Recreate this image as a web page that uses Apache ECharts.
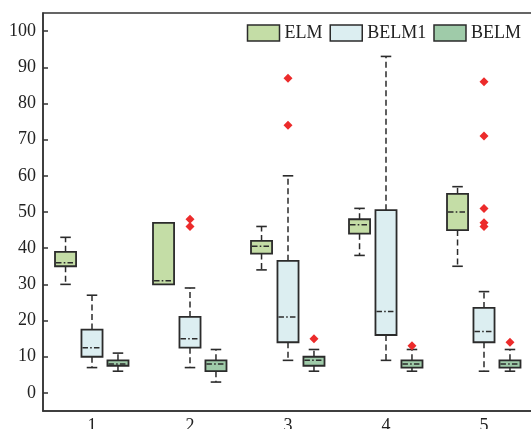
<!DOCTYPE html>
<html>
<head>
<meta charset="utf-8">
<script src="https://cdn.jsdelivr.net/npm/echarts@6/dist/echarts.min.js"></script>
<style>
  html, body { margin: 0; padding: 0; background: #fff; }
  #chart { width: 531px; height: 429px; }
</style>
</head>
<body>
<div id="chart"></div>
<script>
// Test cases on the x axis
const categories = ['1', '2', '3', '4', '5'];
const yTicks = [0, 10, 20, 30, 40, 50, 60, 70, 80, 90, 100];
const seriesNames = ['ELM', 'BELM1', 'BELM'];

// Box statistics per case: [lower whisker, Q1, median, Q3, upper whisker]
const elmStats = [
  [30, 35, 36, 39, 43],
  [30, 30, 31, 47, 47],
  [34, 38.5, 40.5, 42, 46],
  [38, 44, 46.5, 48, 51],
  [35, 45, 50, 55, 57]
];
const belm1Stats = [
  [7, 10, 12.5, 17.5, 27],
  [7, 12.5, 15, 21, 29],
  [9, 14, 21, 36.5, 60],
  [9, 16, 22.5, 50.5, 93],
  [6, 14, 17, 23.5, 28]
];
const belmStats = [
  [6, 7.5, 8, 9, 11],
  [3, 6, 8, 9, 12],
  [6, 7.5, 9, 10, 12],
  [6, 7, 8, 9, 12],
  [6, 7, 8, 9, 12]
];

// Outliers: [case index, value]
const elmOutliers = [];
const belm1Outliers = [
  [1, 48], [1, 46],
  [2, 87], [2, 74],
  [4, 86], [4, 71], [4, 51], [4, 47], [4, 46]
];
const belmOutliers = [
  [2, 15], [3, 13], [4, 14]
];

const fills = ['#c4dda6', '#dceef1', '#9fcba9'];
const edge = '#2b2b2b';
const offsets = [-0.27, 0, 0.265];   // fraction of band width
const boxRatio = 0.215;              // box width as fraction of band width
const font = "'Liberation Serif', 'Times New Roman', serif";

function boxRenderer(offset, fill) {
  return function (params, api) {
    const i = api.value(0);
    const band = api.size([1, 0])[0];
    const cx = api.coord([i, 0])[0] + band * offset;
    const w = band * boxRatio;
    const y = k => api.coord([i, api.value(k)])[1];
    const yLo = y(1), yQ1 = y(2), yMed = y(3), yQ3 = y(4), yHi = y(5);
    const dashed = { stroke: edge, lineWidth: 1.5, lineDash: [6, 3.5] };
    const solid = { stroke: edge, lineWidth: 1.6 };
    const children = [];
    if (yHi < yQ3 - 0.5) {
      children.push({ type: 'line', shape: { x1: cx, y1: yQ3, x2: cx, y2: yHi }, style: dashed });
      children.push({ type: 'line', shape: { x1: cx - w / 4, y1: yHi, x2: cx + w / 4, y2: yHi }, style: solid });
    }
    if (yLo > yQ1 + 0.5) {
      children.push({ type: 'line', shape: { x1: cx, y1: yQ1, x2: cx, y2: yLo }, style: dashed });
      children.push({ type: 'line', shape: { x1: cx - w / 4, y1: yLo, x2: cx + w / 4, y2: yLo }, style: solid });
    }
    children.push({
      type: 'rect',
      shape: { x: cx - w / 2, y: yQ3, width: w, height: yQ1 - yQ3 },
      style: { fill: fill, stroke: edge, lineWidth: 1.8 }
    });
    children.push({
      type: 'line',
      shape: { x1: cx - w / 2 + 1, y1: yMed, x2: cx + w / 2 - 1, y2: yMed },
      style: { stroke: edge, lineWidth: 1.5, lineDash: [5.5, 2.2, 1.6, 2.2] }
    });
    return { type: 'group', children: children };
  };
}

function outlierRenderer(offset) {
  return function (params, api) {
    const i = api.value(0);
    const band = api.size([1, 0])[0];
    const p = api.coord([i, api.value(1)]);
    const cx = p[0] + band * offset, cy = p[1];
    const r = 4.5;
    return {
      type: 'polygon',
      shape: { points: [[cx, cy - r], [cx + r, cy], [cx, cy + r], [cx - r, cy]] },
      style: { fill: '#ec2b2b' }
    };
  };
}

const statsList = [elmStats, belm1Stats, belmStats];
const outlierList = [elmOutliers, belm1Outliers, belmOutliers];

const series = [];
seriesNames.forEach((name, s) => {
  series.push({
    name: name,
    type: 'custom',
    renderItem: boxRenderer(offsets[s], fills[s]),
    itemStyle: { color: fills[s] },
    encode: { x: 0, y: [1, 2, 3, 4, 5] },
    data: statsList[s].map((row, i) => [i].concat(row)),
    z: 3
  });
  series.push({
    name: name + ' outliers',
    type: 'custom',
    renderItem: outlierRenderer(offsets[s]),
    encode: { x: 0, y: 1 },
    data: outlierList[s],
    z: 4
  });
});

const chart = echarts.init(document.getElementById('chart'), null, { renderer: 'canvas' });
chart.setOption({
  animation: false,
  backgroundColor: '#fff',
  textStyle: { fontFamily: font },
  grid: {
    left: 43, right: -2, top: 13, bottom: 18,
    containLabel: false,
    outerBoundsMode: 'none',
    show: true, borderColor: '#333', borderWidth: 1.5, backgroundColor: 'transparent'
  },
  legend: {
    data: seriesNames.map((n, s) => ({
      name: n,
      icon: 'rect',
      itemStyle: { color: fills[s], borderColor: edge, borderWidth: 1.5 }
    })),
    right: 10,
    top: 24,
    padding: 0,
    itemWidth: 32,
    itemHeight: 16,
    itemGap: 7,
    textStyle: { fontFamily: font, fontSize: 18, color: '#222' }
  },
  xAxis: {
    type: 'category',
    data: categories,
    boundaryGap: true,
    axisLine: { onZero: false, lineStyle: { color: '#333', width: 1.5 } },
    axisTick: { inside: true, alignWithLabel: true, length: 5, lineStyle: { color: '#333', width: 1.5 } },
    axisLabel: { fontFamily: font, fontSize: 18, color: '#222', margin: 6 },
    splitLine: { show: false }
  },
  yAxis: {
    type: 'value',
    min: -5,
    max: 105,
    axisLine: { show: true, lineStyle: { color: '#333', width: 1.5 } },
    axisTick: { show: true, inside: true, length: 5, customValues: yTicks, lineStyle: { color: '#333', width: 1.5 } },
    axisLabel: { fontFamily: font, fontSize: 18, color: '#222', margin: 7, customValues: yTicks },
    splitLine: { show: false }
  },
  series: series
});
</script>
</body>
</html>
